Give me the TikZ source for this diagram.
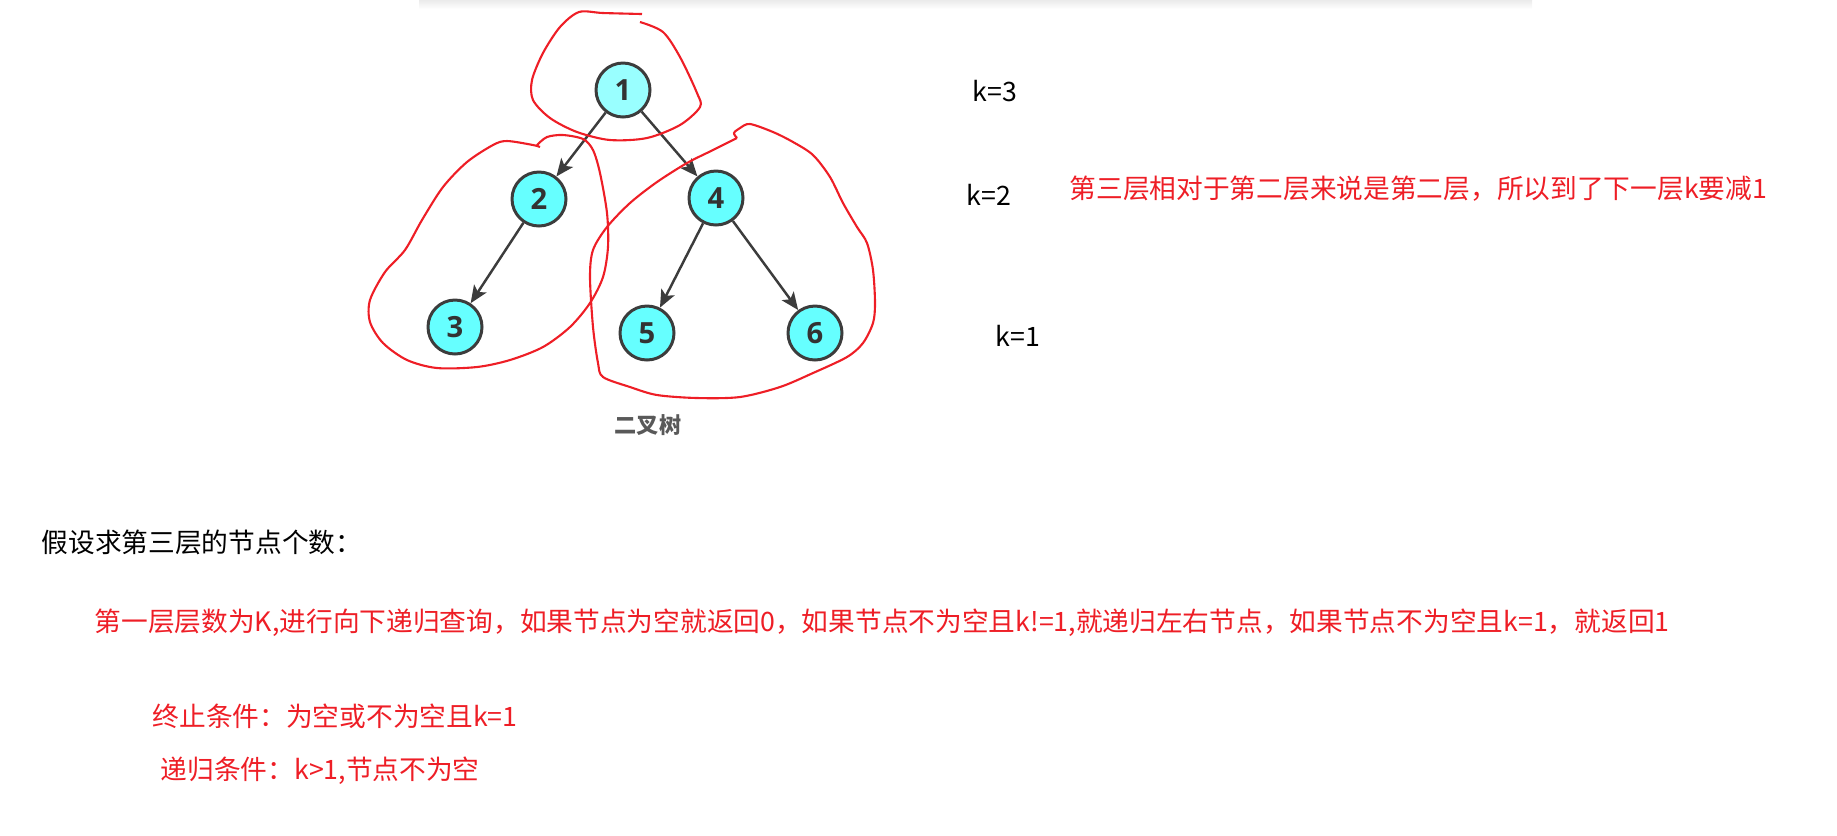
\documentclass[tikz,border=0pt]{standalone}
\usepackage{fontspec}
\setmainfont{Noto Sans CJK SC}
\newfontfamily\numfont{Open Sans}
\usepackage{xcolor}
\usepackage{tikz}
\usetikzlibrary{positioning}
\usetikzlibrary{arrows.meta}
\definecolor{penred}{RGB}{238,30,38}
\definecolor{nodecyan}{RGB}{102,255,255}
\definecolor{rootcyan}{RGB}{153,255,255}
\definecolor{edgegray}{RGB}{60,60,60}

\begin{document}
\begin{tikzpicture}[x=0.1mm, y=-0.1mm]
	\tikzset{
		treenode/.style={circle, draw=edgegray, line width=0.85pt, fill=nodecyan, minimum size=5.4mm, inner sep=0pt, text=black!80, font=\numfont\bfseries\fontsize{8.3pt}{8.3pt}\selectfont},
		treeedge/.style={draw=edgegray, line width=0.7pt, -{Stealth[length=5pt, width=4.2pt, inset=1.2pt]}},
		circling/.style={draw=penred, line width=0.6pt, smooth, tension=0.5},
		note/.style={anchor=west, inner sep=0pt, font=\fontsize{7.6pt}{9pt}\selectfont}
	}
	\useasboundingbox (0,0) rectangle (1837,835);

	% shadow of the card above
	\shade[top color=black!8, bottom color=white] (419,0) rectangle (1532,9);

	% the tree
	\node[treenode, fill=rootcyan] (n1) at (623,90) {1};
	\node[treenode] (n2) at (539,199) {2};
	\node[treenode] (n4) at (716,198) {4};
	\node[treenode] (n3) at (455,327) {3};
	\node[treenode] (n5) at (647,333) {5};
	\node[treenode] (n6) at (815,333) {6};

	\draw[treeedge] (n1) -- (n2);
	\draw[treeedge] (n1) -- (n4);
	\draw[treeedge] (n2) -- (n3);
	\draw[treeedge] (n4) -- (n5);
	\draw[treeedge] (n4) -- (n6);

	\node[text=black!65, font=\bfseries\fontsize{6.3pt}{7pt}\selectfont] (caption) at (648,425) {二叉树};

	% hand-drawn rings
	\draw[circling] plot coordinates {(642,14) (603,13) (579,12) (560,27) (543,53) (532,80) (533,100) (550,118) (577,132) (610,140) (647,138) (680,125) (700,107) (697,93) (680,57) (663,32) (640,22)};
	\draw[circling] plot coordinates {(540,147) (533,145) (507,141) (493,145) (467,162) (443,187) (422,220) (405,250) (385,272) (370,300) (370,322) (383,343) (407,360) (437,368) (477,367) (510,360) (543,347) (570,327) (590,303) (603,277) (608,247) (607,213) (600,173) (593,150) (583,139) (563,135) (547,137) (537,145)};
	\draw[circling] plot coordinates {(737,138) (734,133) (740,128) (750,124) (773,132) (793,142) (813,155) (830,177) (843,203) (857,227) (867,243) (873,270) (875,303) (873,323) (863,343) (847,357) (813,373) (780,387) (740,397) (697,398) (657,395) (630,387) (603,377) (598,363) (593,327) (590,277) (593,250) (607,227) (630,203) (657,182) (687,163) (713,150) (737,138)};

	% levels
	\node[note] (k3) at (972,91) {k=3};
	\node[note] (k2) at (966,195) {k=2};
	\node[note] (k1) at (995,336) {k=1};
	\node[note, text=penred] (remark) at (1069,189) {第三层相对于第二层来说是第二层，所以到了下一层k要减1};

	% explanation below
	\node[note] (question) at (41,542) {假设求第三层的节点个数：};
	\node[note, text=penred] (idea) at (94,623) {第一层层数为K,进行向下递归查询，如果节点为空就返回0，如果节点不为空且k!=1,就递归左右节点，如果节点不为空且k=1，就返回1};
	\node[note, text=penred] (stopcase) at (152,716) {终止条件：为空或不为空且k=1};
	\node[note, text=penred] (recurcase) at (160,771) {递归条件：k>1,节点不为空};
\end{tikzpicture}
\end{document}
